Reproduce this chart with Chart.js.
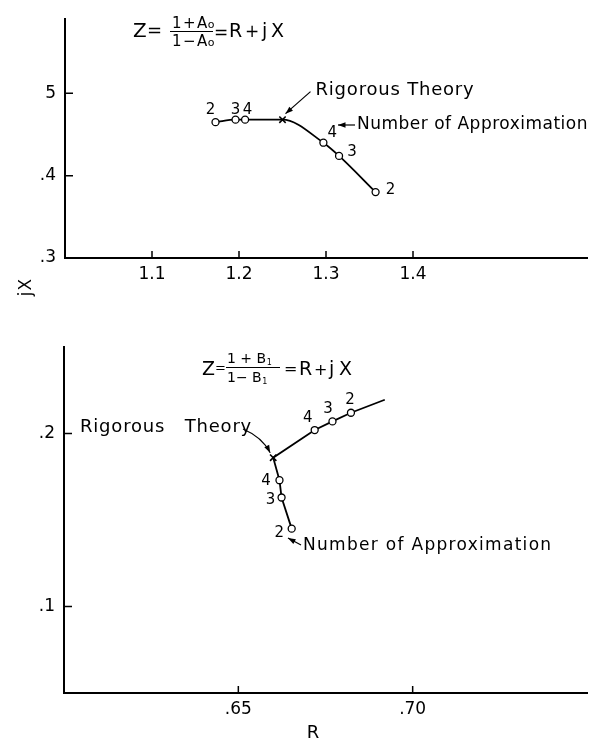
<!DOCTYPE html>
<html>
<head>
<meta charset="utf-8">
<script src="https://cdn.jsdelivr.net/npm/chart.js@4"></script>
<style>
  html, body { margin: 0; padding: 0; background: #fff; }
  #wrap { position: relative; width: 599px; height: 740px; }
  .box { position: absolute; left: 0; width: 599px; }
  #topBox { top: 0; height: 300px; }
  #botBox { top: 300px; height: 440px; }
</style>
</head>
<body>
<div id="wrap">
  <div class="box" id="topBox"><canvas id="topChart"></canvas></div>
  <div class="box" id="botBox"><canvas id="botChart"></canvas></div>
</div>
<script>
// number of approximation for each marked point (same order in every branch array)
const approxOrder = ['2', '3', '4'];

// upper plot, Z = (1+Ao)/(1-Ao) = R + jX
const topLeftR = [1.173, 1.196, 1.207];
const topLeftX = [0.465, 0.468, 0.468];
const topRightR = [1.357, 1.315, 1.297];
const topRightX = [0.380, 0.424, 0.440];
const topRigorousR = 1.250;
const topRigorousX = 0.468;

const topXTicks = [1.1, 1.2, 1.3, 1.4];
const topXLabels = ['1.1', '1.2', '1.3', '1.4'];
const topYTicks = [0.3, 0.4, 0.5];
const topYLabels = ['.3', '.4', '5'];

// lower plot, Z = (1+B1)/(1-B1) = R + jX
const botLowR = [0.6653, 0.6624, 0.6618];
const botLowX = [0.145, 0.163, 0.173];
const botUpR = [0.6823, 0.6770, 0.6719];
const botUpX = [0.212, 0.207, 0.202];
const botRigorousR = 0.660;
const botRigorousX = 0.186;
const botEndR = 0.692;
const botEndX = 0.2195;

const botXTicks = [0.65, 0.70];
const botXLabels = ['.65', '.70'];
const botYTicks = [0.1, 0.2];
const botYLabels = ['.1', '.2'];

Chart.defaults.font.family = 'DejaVu Sans';
Chart.defaults.color = '#000';

const pts = (rs, xs) => rs.map((r, i) => ({ x: r, y: xs[i] }));

function pick(list, labels, v) {
  const i = list.findIndex(t => Math.abs(t - v) < 1e-9);
  return i < 0 ? '' : labels[i];
}

function axes(o) {
  const font = { family: 'DejaVu Sans', size: 17 };
  return {
    x: {
      type: 'linear', min: o.xMin, max: o.xMax,
      afterBuildTicks: s => { s.ticks = o.xTicks.map(v => ({ value: v })); },
      afterFit: s => { s.height = o.xHeight; },
      grid: { display: false, drawTicks: false },
      border: { color: '#000', width: 2 },
      ticks: { color: '#000', font, padding: 6, maxRotation: 0, autoSkip: false,
        callback: v => pick(o.xTicks, o.xLabels, v) }
    },
    y: {
      type: 'linear', min: o.yMin, max: o.yMax,
      afterBuildTicks: s => { s.ticks = o.yTicks.map(v => ({ value: v })); },
      afterFit: s => { s.width = o.yWidth; },
      grid: { display: false, drawTicks: false },
      border: { color: '#000', width: 2 },
      ticks: { color: '#000', font, padding: 9, autoSkip: false,
        callback: v => pick(o.yTicks, o.yLabels, v) }
    }
  };
}

// tick marks point into the plot in the original
const inwardTicks = {
  id: 'inwardTicks',
  afterDatasetsDraw(chart) {
    const { ctx, chartArea: a, scales: { x, y } } = chart;
    ctx.save();
    ctx.strokeStyle = '#000';
    ctx.lineWidth = 1.5;
    ctx.beginPath();
    x.ticks.forEach(t => {
      const px = x.getPixelForValue(t.value);
      ctx.moveTo(px, a.bottom); ctx.lineTo(px, a.bottom - 7);
    });
    y.ticks.forEach(t => {
      const py = y.getPixelForValue(t.value);
      ctx.moveTo(a.left, py); ctx.lineTo(a.left + 8, py);
    });
    ctx.stroke();
    ctx.restore();
  }
};

// draws text and returns the x where it ends
function txt(ctx, s, x, y, size, opts = {}) {
  ctx.font = size + 'px "DejaVu Sans"';
  ctx.textAlign = opts.align || 'left';
  ctx.textBaseline = opts.base || 'alphabetic';
  ctx.letterSpacing = (opts.sp || 0) + 'px';
  ctx.fillText(s, x, y);
  const w = ctx.measureText(s).width;
  ctx.letterSpacing = '0px';
  return x + w;
}

function arrow(ctx, x1, y1, x2, y2, cx, cy) {
  ctx.beginPath();
  ctx.moveTo(x1, y1);
  if (cx !== undefined) ctx.quadraticCurveTo(cx, cy, x2, y2);
  else ctx.lineTo(x2, y2);
  ctx.lineWidth = 1.2;
  ctx.stroke();
  const fx = cx !== undefined ? cx : x1, fy = cy !== undefined ? cy : y1;
  const ang = Math.atan2(y2 - fy, x2 - fx);
  ctx.beginPath();
  ctx.moveTo(x2, y2);
  ctx.lineTo(x2 - 8 * Math.cos(ang - 0.35), y2 - 8 * Math.sin(ang - 0.35));
  ctx.lineTo(x2 - 8 * Math.cos(ang + 0.35), y2 - 8 * Math.sin(ang + 0.35));
  ctx.closePath();
  ctx.fill();
}

function numberLabels(ctx, x, y, rs, xs, offs) {
  rs.forEach((r, i) => {
    const px = x.getPixelForValue(r), py = y.getPixelForValue(xs[i]);
    txt(ctx, approxOrder[i], px + offs[i][0], py + offs[i][1], 15, { align: 'center', base: 'middle' });
  });
}

function lineDatasets(curve, approx, rigorous, smooth) {
  return [
    { data: approx, showLine: false, pointStyle: 'circle', pointRadius: 3.5,
      pointBackgroundColor: '#fff', pointBorderColor: '#000', pointBorderWidth: 1.3, order: 1 },
    { data: rigorous, showLine: false, pointStyle: 'crossRot', pointRadius: 4.5,
      pointBorderColor: '#000', pointBorderWidth: 1.6, order: 2 },
    { data: curve, showLine: true, pointRadius: 0, borderColor: '#000', borderWidth: 1.8,
      cubicInterpolationMode: smooth ? 'monotone' : 'default', tension: 0, order: 3 }
  ];
}

// upper chart
const topNotes = {
  id: 'topNotes',
  afterDatasetsDraw(chart) {
    const { ctx, scales: { x, y } } = chart;
    ctx.save();
    ctx.fillStyle = '#000';
    ctx.strokeStyle = '#000';
    numberLabels(ctx, x, y, topLeftR, topLeftX, [[-5, -12], [0, -10], [2.5, -10]]);
    numberLabels(ctx, x, y, topRightR, topRightX, [[15, -2], [13, -4], [9, -10]]);

    const rx = x.getPixelForValue(topRigorousR), ry = y.getPixelForValue(topRigorousX);
    txt(ctx, 'Rigorous Theory', rx + 33, ry - 25, 18, { sp: 0.8 });
    arrow(ctx, rx + 28, ry - 28, rx + 3, ry - 6);
    txt(ctx, 'Number of Approximation', 357, 129, 17, { sp: 0.5 });
    arrow(ctx, 355, 125, 338, 125);

    // formula
    txt(ctx, 'Z', 133, 37, 20);
    txt(ctx, '=', 147, 36, 18);
    let e = txt(ctx, '1+A', 172, 28, 15, { sp: 1.5 });
    txt(ctx, 'o', e - 1, 28, 11);
    ctx.lineWidth = 1;
    ctx.beginPath(); ctx.moveTo(170, 31.5); ctx.lineTo(213, 31.5); ctx.stroke();
    e = txt(ctx, '1−A', 172, 46, 15, { sp: 1.5 });
    txt(ctx, 'o', e - 1, 46, 11);
    txt(ctx, '=', 214, 38, 17);
    txt(ctx, 'R', 229, 37, 19);
    txt(ctx, '+', 245, 37, 17);
    txt(ctx, 'j', 262, 37, 19);
    txt(ctx, 'X', 271, 37, 19);

    // shared axis title jX
    ctx.translate(27, 287);
    ctx.rotate(-Math.PI / 2);
    txt(ctx, 'jX', 0, 0, 17, { align: 'center', base: 'middle', sp: 1 });
    ctx.restore();
  }
};

new Chart(document.getElementById('topChart'), {
  type: 'scatter',
  data: {
    datasets: lineDatasets(
      [...pts(topLeftR, topLeftX), { x: topRigorousR, y: topRigorousX }, ...pts(topRightR, topRightX).reverse()],
      [...pts(topLeftR, topLeftX), ...pts(topRightR, topRightX)],
      [{ x: topRigorousR, y: topRigorousX }],
      true)
  },
  options: {
    responsive: true, maintainAspectRatio: false, animation: false,
    layout: { padding: { top: 8, right: 12, left: 0, bottom: 0 } },
    plugins: { legend: { display: false }, tooltip: { enabled: false } },
    scales: axes({ xMin: 1.0, xMax: 1.6, xTicks: topXTicks, xLabels: topXLabels,
      yMin: 0.3, yMax: 0.59, yTicks: topYTicks, yLabels: topYLabels, yWidth: 65, xHeight: 42 })
  },
  plugins: [inwardTicks, topNotes]
});

// lower chart
const botNotes = {
  id: 'botNotes',
  afterDatasetsDraw(chart) {
    const { ctx, scales: { x, y } } = chart;
    ctx.save();
    ctx.fillStyle = '#000';
    ctx.strokeStyle = '#000';
    numberLabels(ctx, x, y, botLowR, botLowX, [[-12.5, 4], [-11, 3], [-13.5, 1]]);
    numberLabels(ctx, x, y, botUpR, botUpX, [[-1, -13], [-4.5, -12], [-7, -12]]);

    const rx = x.getPixelForValue(botRigorousR), ry = y.getPixelForValue(botRigorousX);
    txt(ctx, 'Rigorous   Theory', 80, 132, 18, { sp: 0.8 });
    arrow(ctx, 243, 129, rx - 3, ry - 5, 262, 137);
    txt(ctx, 'Number of Approximation', 303, 250, 17, { sp: 1.3 });
    arrow(ctx, 301, 245, 288, 238);

    // formula
    txt(ctx, 'Z', 202, 75, 19);
    txt(ctx, '=', 215, 72, 13);
    let e = txt(ctx, '1 + B', 227, 63, 14);
    txt(ctx, '1', e + 0.5, 65, 8);
    ctx.lineWidth = 1;
    ctx.beginPath(); ctx.moveTo(226, 67.5); ctx.lineTo(280, 67.5); ctx.stroke();
    e = txt(ctx, '1− B', 227, 82, 14);
    txt(ctx, '1', e + 0.5, 84, 8);
    txt(ctx, '=', 284, 74, 16);
    txt(ctx, 'R', 299, 75, 19);
    txt(ctx, '+', 314, 75, 16);
    txt(ctx, 'j', 329, 75, 19);
    txt(ctx, 'X', 339, 75, 19);

    txt(ctx, 'R', 313, 433, 18, { align: 'center', base: 'middle' });
    ctx.restore();
  }
};

new Chart(document.getElementById('botChart'), {
  type: 'scatter',
  data: {
    datasets: lineDatasets(
      [...pts(botLowR, botLowX), { x: botRigorousR, y: botRigorousX }, ...pts(botUpR, botUpX).reverse(), { x: botEndR, y: botEndX }],
      [...pts(botLowR, botLowX), ...pts(botUpR, botUpX)],
      [{ x: botRigorousR, y: botRigorousX }],
      false)
  },
  options: {
    responsive: true, maintainAspectRatio: false, animation: false,
    layout: { padding: { top: 47, right: 12, left: 0, bottom: 0 } },
    plugins: { legend: { display: false }, tooltip: { enabled: false } },
    scales: axes({ xMin: 0.60, xMax: 0.75, xTicks: botXTicks, xLabels: botXLabels,
      yMin: 0.05, yMax: 0.25, yTicks: botYTicks, yLabels: botYLabels, yWidth: 64, xHeight: 47 })
  },
  plugins: [inwardTicks, botNotes]
});
</script>
</body>
</html>
